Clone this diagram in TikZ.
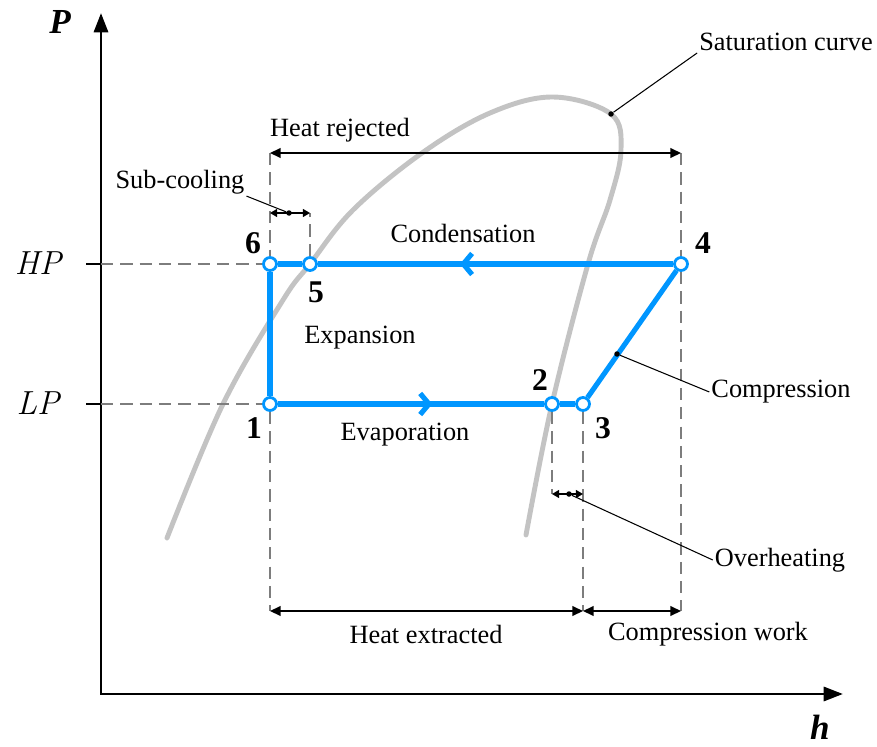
\documentclass[tikz,border=0pt]{standalone}
\usepackage{fontspec}
\newfontfamily\garfont{Liberation Serif}
\usepackage{xcolor}
\usepackage{tikz}
\usetikzlibrary{arrows.meta,decorations.markings}

\definecolor{cycblue}{RGB}{0,150,255}
\definecolor{satgray}{RGB}{195,195,195}
\definecolor{guidegray}{RGB}{125,125,125}

\begin{document}
\begin{tikzpicture}[
  x=0.02cm, y=-0.02cm,
  lbl/.style={font=\garfont\fontsize{15}{18}\selectfont, inner sep=1pt},
  num/.style={font=\garfont\bfseries\fontsize{18}{20}\selectfont, inner sep=1pt},
  axlbl/.style={font=\garfont\bfseries\itshape\fontsize{20}{22}\selectfont, inner sep=1pt},
  plbl/.style={font=\itshape\fontsize{19}{22}\selectfont, inner sep=1pt},
  pt/.style={circle, draw=cycblue, fill=white, line width=1.6pt, inner sep=0pt, minimum size=0.26cm},
  dot/.style={circle, fill=black, inner sep=0pt, minimum size=0.11cm},
  cyc/.style={cycblue, line width=2.9pt},
  midarr/.style={postaction={decorate}, decoration={markings,
      mark=at position #1 with {\arrow[cycblue, line width=2.9pt, line cap=round]{Straight Barb[length=5pt, width=12pt]}}}},
  sat/.style={satgray, line width=2.8pt, line cap=round},
  guide/.style={guidegray, dash pattern=on 7pt off 4pt, line width=0.8pt},
  dim/.style={{Triangle[length=6pt, width=5.5pt]}-{Triangle[length=6pt, width=5.5pt]}, line width=0.8pt},
  sdim/.style={{Triangle[length=4pt, width=4.5pt]}-{Triangle[length=4pt, width=4.5pt]}, line width=0.8pt},
  lead/.style={line width=0.6pt},
  axis/.style={line width=1.7pt},
  tick/.style={line width=1pt}
]
\useasboundingbox (0,0) rectangle (877,747);

% saturation curve
\draw[sat] plot[smooth, tension=0.6] coordinates {(167,538) (223,404) (283,300) (310,264) (353,210) (422,153) (490,113) (553,97) (611,114) (621,150) (610,200) (588,264) (552,404) (526,535)};

% axes
\coordinate (o) at (101,694);
\coordinate (ytop) at (101,13);
\coordinate (xend) at (843,694);
\draw[axis, {Triangle[length=11pt, width=8pt]}-{Triangle[length=11pt, width=8pt]}] (ytop) -- (o) -- (xend);
\node[axlbl] (plab) at (60,22) {P};
\node[axlbl] (hlab) at (820,727) {h};

% pressure levels
\coordinate (hpt) at (86,264);
\coordinate (hpa) at (101,264);
\coordinate (lpt) at (86,404);
\coordinate (lpa) at (101,404);
\draw[tick] (hpt) -- (hpa);
\draw[tick] (lpt) -- (lpa);
\node[plbl] (hp) at (38,263) {HP};
\node[plbl] (lp) at (38,403) {LP};

% cycle points
\node[pt] (p6) at (270,264) {};
\node[pt] (p5) at (310,264) {};
\node[pt] (p4) at (681,264) {};
\node[pt] (p1) at (270,404) {};
\node[pt] (p2) at (552,404) {};
\node[pt] (p3) at (583,404) {};

% dimension coordinates
\coordinate (hr1) at (270,153);
\coordinate (hr2) at (681,153);
\coordinate (sc1) at (270,213);
\coordinate (sc2) at (310,213);
\coordinate (oh1) at (552,494);
\coordinate (oh2) at (583,494);
\coordinate (he1) at (270,611);
\coordinate (he2) at (583,611);
\coordinate (cw2) at (681,611);

% guide lines
\draw[guide] (hpa) -- (p6);
\draw[guide] (lpa) -- (p1);
\draw[guide] (hr1) -- (p6);
\draw[guide] (p1) -- (he1);
\draw[guide] (p5) -- (sc2);
\draw[guide] (hr2) -- (p4);
\draw[guide] (p4) -- (cw2);
\draw[guide] (p3) -- (he2);
\draw[guide] (p2) -- (oh1);

% cycle
\draw[cyc, midarr=0.6] (p4) -- (p5);
\draw[cyc] (p5) -- (p6);
\draw[cyc] (p6) -- (p1);
\draw[cyc, midarr=0.58] (p1) -- (p2);
\draw[cyc] (p2) -- (p3);
\draw[cyc] (p3) -- (p4);

% dimensions
\draw[dim] (hr1) -- (hr2);
\draw[dim] (he1) -- (he2);
\draw[dim] (he2) -- (cw2);
\draw[sdim] (sc1) -- (sc2);
\draw[sdim] (oh1) -- (oh2);

% leader dots
\node[dot] (scd) at (289,213) {};
\node[dot] (ohd) at (569,494) {};
\node[dot] (cpd) at (617,354) {};
\node[dot] (sad) at (611,114) {};

% labels
\node[lbl] (satl) at (786,42) {Saturation curve};
\node[lbl] (hrl) at (340,130) {Heat rejected};
\node[lbl] (scl) at (180,182) {Sub-cooling};
\node[lbl] (cdl) at (463,233) {Condensation};
\node[lbl] (exl) at (360,338) {Expansion};
\node[lbl] (evl) at (405,435) {Evaporation};
\node[lbl] (cpl) at (781,392) {Compression};
\node[lbl] (ohl) at (780,560) {Overheating};
\node[lbl] (hel) at (426,634) {Heat extracted};
\node[lbl] (cwl) at (708,634) {Compression work};

\draw[lead] (sad) -- (satl.south west);
\draw[lead] (scd) -- (scl.south east);
\draw[lead] (cpd) -- (cpl.west);
\draw[lead] (ohd) -- (ohl.west);

% point numbers
\node[num] (n6) at (253,243) {6};
\node[num] (n5) at (316,292) {5};
\node[num] (n4) at (703,243) {4};
\node[num] (n1) at (254,428) {1};
\node[num] (n2) at (540,380) {2};
\node[num] (n3) at (603,428) {3};
\end{tikzpicture}
\end{document}
